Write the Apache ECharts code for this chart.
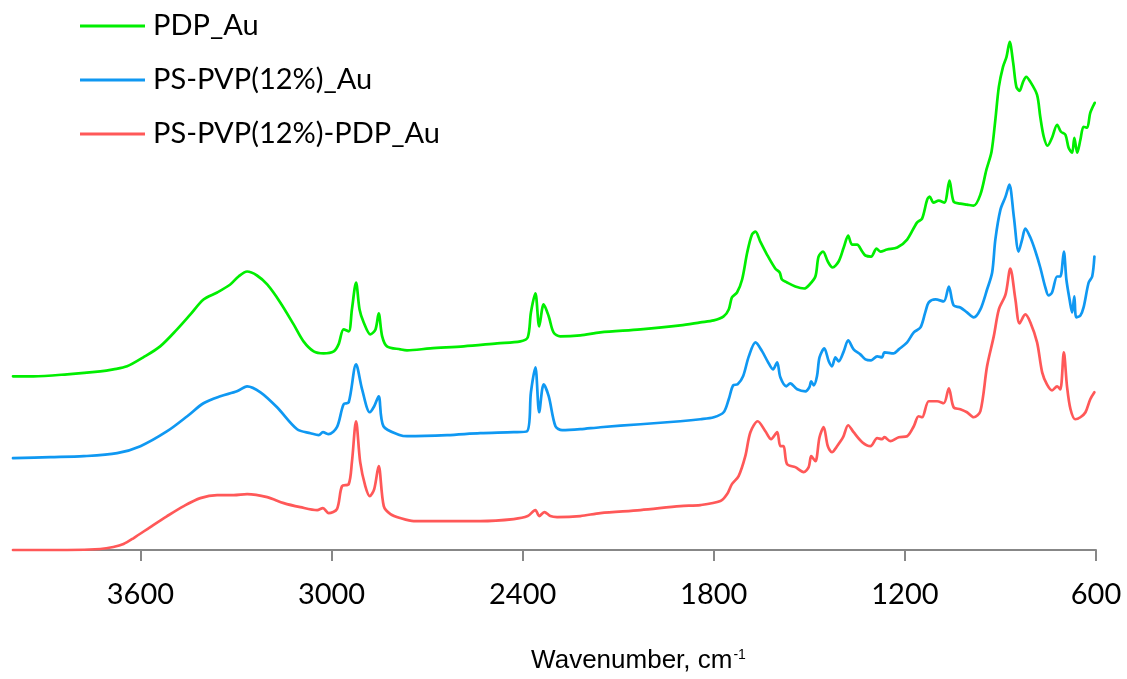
<!DOCTYPE html>
<html>
<head>
<meta charset="utf-8">
<script src="https://cdn.jsdelivr.net/npm/echarts@6/dist/echarts.min.js"></script>
<style>
  html, body { margin: 0; padding: 0; background: #ffffff; }
  #chart { width: 1127px; height: 679px; }
</style>
</head>
<body>
<div id="chart"></div>
<script>
// FTIR spectra, stacked with vertical offsets (arbitrary absorbance units)
const seriesNames = ['PDP_Au', 'PS-PVP(12%)_Au', 'PS-PVP(12%)-PDP_Au'];
const seriesColors = ['#00ee00', '#0f98f2', '#ff5858'];
const tickValues = [600, 1200, 1800, 2400, 3000, 3600];

// PDP_Au
const pdpWn = [4000, 3936, 3830, 3726, 3685, 3642, 3591, 3538, 3485, 3443, 3402, 3359, 3318, 3292, 3265, 3234, 3202, 3161, 3119, 3088,
  3056, 3025, 2993, 2978, 2962, 2946, 2936, 2923, 2912, 2899, 2878, 2862, 2852, 2841, 2826, 2784, 2763, 2690, 2585, 2480,
  2407, 2384, 2374, 2360, 2348, 2334, 2318, 2303, 2282, 2219, 2156, 2030, 1905, 1842, 1800, 1769, 1753, 1743, 1727, 1711,
  1695, 1680, 1669, 1654, 1633, 1607, 1593, 1586, 1570, 1544, 1516, 1502, 1481, 1471, 1457, 1442, 1427, 1408, 1392, 1378,
  1366, 1350, 1334, 1324, 1306, 1289, 1277, 1256, 1224, 1193, 1162, 1146, 1130, 1122, 1110, 1094, 1076, 1060, 1047, 1026,
  1005, 984, 963, 944, 928, 916, 905, 892, 881, 871, 860, 850, 840, 829, 819, 806, 785, 775, 764, 752,
  738, 722, 710, 696, 686, 675, 668, 659, 649, 639, 628, 618, 604];
const pdpAbs = [1.74, 1.74, 1.76, 1.79, 1.81, 1.84, 1.93, 2.04, 2.21, 2.36, 2.51, 2.58, 2.66, 2.74, 2.79, 2.75, 2.66, 2.48, 2.26, 2.09,
  1.99, 1.97, 1.99, 2.06, 2.21, 2.19, 2.41, 2.68, 2.41, 2.28, 2.16, 2.21, 2.37, 2.14, 2.04, 2.01, 2.00, 2.02, 2.04, 2.07,
  2.09, 2.13, 2.38, 2.57, 2.24, 2.46, 2.34, 2.18, 2.14, 2.15, 2.18, 2.21, 2.25, 2.28, 2.30, 2.34, 2.41, 2.53, 2.58, 2.71,
  2.98, 3.16, 3.19, 3.09, 2.96, 2.82, 2.78, 2.71, 2.68, 2.64, 2.62, 2.65, 2.74, 2.94, 2.99, 2.89, 2.83, 2.89, 3.03, 3.15,
  3.06, 3.06, 2.99, 2.95, 2.94, 3.02, 2.99, 3.01, 3.03, 3.11, 3.28, 3.32, 3.51, 3.54, 3.48, 3.50, 3.48, 3.70, 3.49, 3.47,
  3.46, 3.45, 3.56, 3.81, 3.99, 4.31, 4.64, 4.84, 4.94, 5.09, 4.88, 4.64, 4.60, 4.69, 4.74, 4.69, 4.56, 4.34, 4.14, 4.05,
  4.13, 4.26, 4.19, 4.16, 4.03, 3.98, 4.13, 3.98, 4.11, 4.24, 4.23, 4.38, 4.48];

// PS-PVP(12%)_Au
const psWn = [4000, 3883, 3778, 3673, 3600, 3516, 3453, 3402, 3349, 3297, 3265, 3223, 3171, 3108, 3066, 3040, 3027, 3009, 2983, 2962,
  2946, 2923, 2904, 2880, 2866, 2852, 2837, 2784, 2763, 2637, 2533, 2428, 2386, 2374, 2360, 2348, 2334, 2318, 2297, 2276,
  2219, 2156, 2030, 1905, 1842, 1800, 1769, 1753, 1739, 1725, 1708, 1690, 1669, 1648, 1631, 1614, 1601, 1591, 1572, 1560,
  1538, 1512, 1500, 1494, 1486, 1476, 1468, 1453, 1439, 1429, 1418, 1408, 1392, 1378, 1361, 1340, 1324, 1306, 1287, 1272,
  1264, 1235, 1219, 1193, 1172, 1151, 1136, 1125, 1104, 1078, 1062, 1047, 1026, 1005, 984, 963, 942, 926, 916, 900,
  884, 872, 858, 843, 832, 822, 806, 790, 775, 759, 749, 738, 722, 712, 701, 693, 683, 675, 668, 662,
  649, 639, 623, 612, 605];
const psAbs = [0.92, 0.93, 0.94, 0.97, 1.04, 1.19, 1.34, 1.47, 1.54, 1.59, 1.64, 1.58, 1.43, 1.21, 1.17, 1.15, 1.18, 1.16, 1.23, 1.46,
  1.48, 1.86, 1.61, 1.38, 1.44, 1.54, 1.24, 1.15, 1.14, 1.15, 1.17, 1.18, 1.19, 1.58, 1.83, 1.38, 1.66, 1.54, 1.24, 1.20,
  1.21, 1.23, 1.26, 1.29, 1.31, 1.33, 1.38, 1.51, 1.65, 1.66, 1.74, 1.94, 2.08, 1.99, 1.89, 1.81, 1.88, 1.73, 1.64, 1.67,
  1.61, 1.59, 1.63, 1.69, 1.65, 1.74, 1.93, 2.02, 1.89, 1.84, 1.93, 1.89, 1.99, 2.10, 2.01, 1.96, 1.91, 1.90, 1.94, 1.93,
  1.98, 1.97, 2.01, 2.08, 2.18, 2.23, 2.38, 2.48, 2.51, 2.49, 2.64, 2.45, 2.43, 2.38, 2.33, 2.41, 2.61, 2.78, 3.11, 3.41,
  3.54, 3.66, 3.34, 2.99, 3.11, 3.22, 3.13, 2.99, 2.83, 2.63, 2.55, 2.58, 2.74, 2.74, 2.99, 2.71, 2.51, 2.38, 2.54, 2.33,
  2.35, 2.43, 2.68, 2.74, 2.94];

// PS-PVP(12%)-PDP_Au
const blendWn = [4000, 3830, 3726, 3685, 3653, 3621, 3569, 3516, 3464, 3412, 3359, 3307, 3265, 3202, 3150, 3098, 3045, 3027, 3009, 2983,
  2967, 2946, 2936, 2923, 2910, 2894, 2880, 2866, 2852, 2836, 2815, 2784, 2742, 2637, 2533, 2428, 2384, 2360, 2348, 2332,
  2313, 2292, 2219, 2156, 2030, 1905, 1842, 1779, 1758, 1743, 1722, 1701, 1685, 1662, 1638, 1620, 1601, 1591, 1581, 1570,
  1544, 1518, 1502, 1494, 1481, 1468, 1455, 1442, 1429, 1413, 1394, 1378, 1361, 1334, 1308, 1287, 1272, 1264, 1246, 1219,
  1193, 1172, 1157, 1146, 1125, 1099, 1078, 1062, 1047, 1026, 1005, 984, 963, 942, 921, 905, 884, 869, 853, 840,
  822, 806, 785, 769, 754, 738, 722, 712, 701, 691, 680, 665, 649, 633, 618, 605];
const blendAbs = [0.00, 0.00, 0.01, 0.03, 0.06, 0.12, 0.23, 0.34, 0.44, 0.52, 0.55, 0.55, 0.56, 0.53, 0.47, 0.43, 0.40, 0.42, 0.37, 0.41,
  0.64, 0.66, 0.88, 1.29, 0.88, 0.64, 0.54, 0.61, 0.84, 0.44, 0.36, 0.32, 0.29, 0.29, 0.29, 0.31, 0.34, 0.40, 0.34, 0.38,
  0.34, 0.33, 0.34, 0.37, 0.40, 0.44, 0.45, 0.49, 0.56, 0.66, 0.74, 0.94, 1.18, 1.29, 1.19, 1.11, 1.18, 1.04, 1.04, 0.86,
  0.83, 0.78, 0.83, 0.94, 0.89, 1.13, 1.23, 1.04, 0.98, 1.04, 1.13, 1.25, 1.18, 1.08, 1.04, 1.12, 1.11, 1.13, 1.09, 1.13,
  1.14, 1.24, 1.34, 1.33, 1.49, 1.49, 1.47, 1.62, 1.43, 1.41, 1.38, 1.33, 1.39, 1.84, 2.14, 2.41, 2.56, 2.82, 2.51, 2.27,
  2.36, 2.28, 2.08, 1.78, 1.66, 1.60, 1.64, 1.61, 1.98, 1.64, 1.41, 1.31, 1.33, 1.38, 1.51, 1.58];

const pairs = (xs, ys) => xs.map((x, i) => [x, ys[i]]);
const spectra = [pairs(pdpWn, pdpAbs), pairs(psWn, psAbs), pairs(blendWn, blendAbs)];

const chart = echarts.init(document.getElementById('chart'), null, { renderer: 'canvas' });

chart.setOption({
  animation: false,
  backgroundColor: '#ffffff',
  grid: { left: 13, right: 31, top: 1, bottom: 128, containLabel: false },
  legend: {
    orient: 'vertical',
    left: 75,
    top: 6,
    icon: 'rect',
    itemWidth: 65,
    itemHeight: 3,
    itemGap: 24,
    data: seriesNames,
    textStyle: { fontFamily: 'Lato', fontSize: 29, color: '#000000', lineHeight: 30, padding: [0, 0, 0, 3] }
  },
  xAxis: {
    type: 'value',
    min: 600,
    max: 4000,
    interval: 600,
    inverse: true,
    splitLine: { show: false },
    axisLine: { show: true, lineStyle: { color: '#878787', width: 2 } },
    axisTick: { show: true, length: 11, customValues: tickValues, lineStyle: { color: '#878787', width: 2 } },
    axisLabel: {
      customValues: tickValues,
      formatter: (v) => String(v),
      fontFamily: 'Lato',
      fontSize: 29,
      color: '#000000',
      margin: 30
    },
    name: '{t|Wavenumber, cm}{s|-1}',
    nameLocation: 'middle',
    nameGap: 96,
    nameTextStyle: {
      padding: [0, 0, 0, 168],
      rich: {
        t: { fontFamily: 'Liberation Sans', fontSize: 26, color: '#000000', lineHeight: 30 },
        s: { fontFamily: 'Liberation Sans', fontSize: 14, color: '#000000', lineHeight: 14, verticalAlign: 'top', padding: [2, 0, 0, 1] }
      }
    }
  },
  yAxis: { type: 'value', min: 0, max: 5.5, show: false },
  series: seriesNames.map((name, i) => ({
    name,
    type: 'line',
    data: spectra[i],
    showSymbol: false,
    symbol: 'none',
    smooth: 0.3,
    clip: false,
    color: seriesColors[i],
    lineStyle: { color: seriesColors[i], width: 2.7, join: 'round', cap: 'round' }
  }))
});
</script>
</body>
</html>
